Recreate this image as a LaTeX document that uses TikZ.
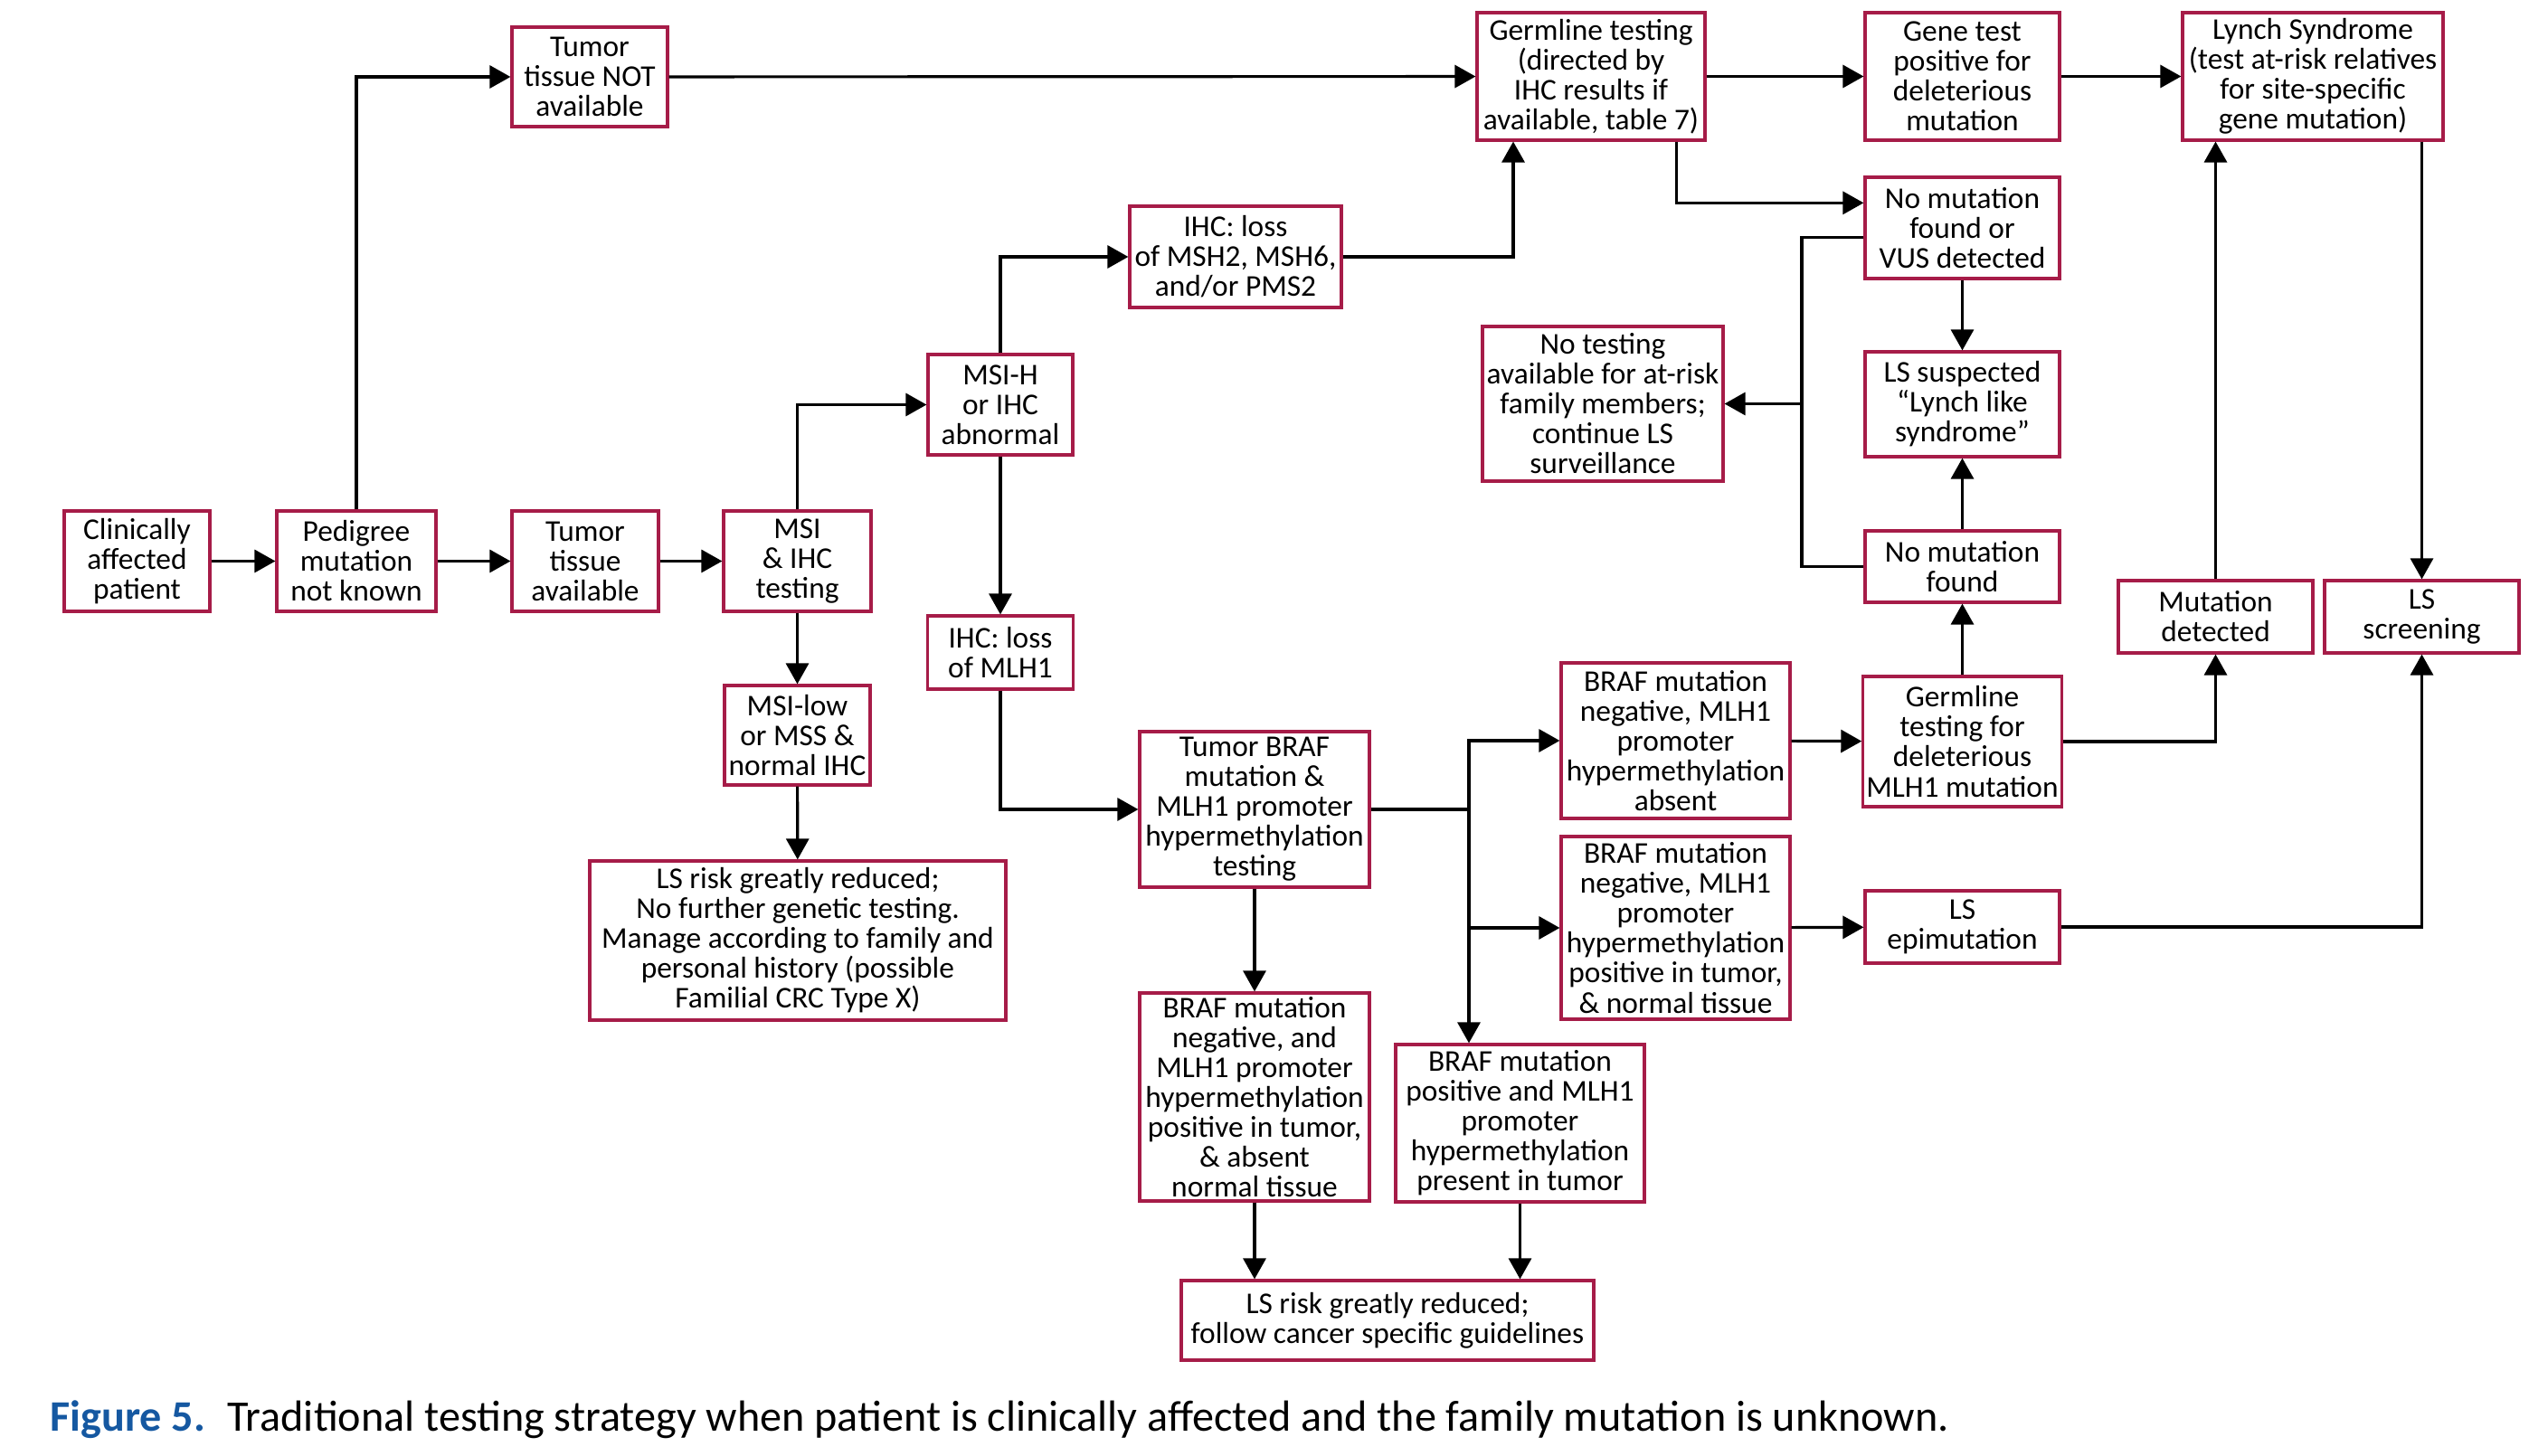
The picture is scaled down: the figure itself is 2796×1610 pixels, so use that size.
\documentclass[tikz,border=0pt]{standalone}
\usepackage{fontspec}
\setmainfont{Carlito}
\usetikzlibrary{arrows.meta,calc}
\definecolor{boxred}{RGB}{166,28,72}
\definecolor{figblue}{RGB}{21,88,161}
\tikzset{
 box/.style={draw=boxred,line width=.9pt,fill=white,align=center,inner sep=1pt,font=\fontsize{9.5}{9.4}\selectfont},
 wh/.style 2 args={minimum width=#1*0.1mm,minimum height=#2*0.1mm},
 link/.style={line width=.9pt},
 arrowlink/.style={line width=.9pt,-{Triangle[length=2.3mm,width=2.5mm]}}
}
\begin{document}
\begin{tikzpicture}[x=0.1mm,y=-0.1mm]
\path[use as bounding box] (0,0) rectangle (2796,1610);
\node[box,wh={161}{111}] (clin) at (151.5,620.5) {Clinically\\affected\\patient};
\node[box,wh={176}{111}] (pedi) at (394,620.5) {Pedigree\\mutation\\not known};
\node[box,wh={172}{110}] (tnot) at (652,85) {Tumor\\tissue NOT\\available};
\node[box,wh={162}{111}] (tavail) at (647,620.5) {Tumor\\tissue\\available};
\node[box,wh={163}{111}] (msiihc) at (881.5,620.5) {MSI\\\& IHC\\testing};
\node[box,wh={161}{110}] (msilow) at (881.5,813) {MSI-low\\or MSS \&\\normal IHC};
\node[box,wh={460}{176}] (lowrisk) at (882,1040) {LS risk greatly reduced;\\No further genetic testing.\\Manage according to family and\\personal history (possible\\Familial CRC Type X)};
\node[box,wh={160}{111}] (msih) at (1106,447.5) {MSI-H\\or IHC\\abnormal};
\node[box,wh={234}{112}] (ihcmsh) at (1366,284) {IHC: loss\\of MSH2, MSH6,\\and/or PMS2};
\node[box,wh={161}{81}] (ihcmlh) at (1106,721.5) {IHC: loss\\of MLH1};
\node[box,wh={254}{172}] (braf) at (1387,895) {Tumor BRAF\\mutation \&\\MLH1 promoter\\hypermethylation\\testing};
\node[box,wh={253}{172}] (negabs) at (1852.5,819) {BRAF mutation\\negative, MLH1\\promoter\\hypermethylation\\absent};
\node[box,wh={253}{202}] (negnorm) at (1852.5,1026) {BRAF mutation\\negative, MLH1\\promoter\\hypermethylation\\positive in tumor,\\\& normal tissue};
\node[box,wh={254}{230}] (negand) at (1387,1213) {BRAF mutation\\negative, and\\MLH1 promoter\\hypermethylation\\positive in tumor,\\\& absent\\normal tissue};
\node[box,wh={275}{174}] (bpos) at (1680.5,1242) {BRAF mutation\\positive and MLH1\\promoter\\hypermethylation\\present in tumor};
\node[box,wh={456}{88}] (guide) at (1534,1460) {LS risk greatly reduced;\\follow cancer specific guidelines};
\node[box,wh={252}{141}] (germ) at (1759,84.5) {Germline testing\\(directed by\\IHC results if\\available, table 7)};
\node[box,wh={215}{141}] (genepos) at (2169.5,84.5) {Gene test\\positive for\\deleterious\\mutation};
\node[box,wh={288}{141}] (lynch) at (2557,84.5) {Lynch Syndrome\\(test at-risk relatives\\for site-specific\\gene mutation)};
\node[box,wh={215}{112}] (novus) at (2169.5,252) {No mutation\\found or\\VUS detected};
\node[box,wh={266}{171}] (notest) at (1772,446.5) {No testing\\available for at-risk\\family members;\\continue LS\\surveillance};
\node[box,wh={215}{116}] (lynchlike) at (2169.5,447) {LS suspected\\``Lynch like\\syndrome''};
\node[box,wh={215}{79}] (nomut) at (2169.5,626.5) {No mutation\\found};
\node[box,wh={215}{144}] (germmlh) at (2169.5,820) {Germline\\testing for\\deleterious\\MLH1 mutation};
\node[box,wh={215}{80}] (mutdet) at (2449.5,682) {Mutation\\detected};
\node[box,wh={215}{80}] (screen) at (2677.5,682) {LS\\screening};
\node[box,wh={215}{80}] (epimut) at (2169.5,1025) {LS\\epimutation};
\coordinate (split) at (1992,446.5);
\coordinate (fork) at (1624,895);
\draw[arrowlink] (clin) -- (pedi);
\draw[arrowlink] (pedi) -- (tavail);
\draw[arrowlink] (tavail) -- (msiihc);
\draw[arrowlink] (pedi) |- (tnot);
\draw[arrowlink] (tnot) -- (germ);
\draw[arrowlink] (germ) -- (genepos);
\draw[arrowlink] (genepos) -- (lynch);
\draw[arrowlink] (msiihc) -- (msilow);
\draw[arrowlink] (msilow) -- (lowrisk);
\draw[arrowlink] (msiihc) |- (msih);
\draw[arrowlink] (msih) |- (ihcmsh);
\draw[arrowlink] (ihcmsh) -| ($(germ.south west)!.163!(germ.south east)$);
\draw[arrowlink] ($(germ.south west)!.869!(germ.south east)$) |- ($(novus.north west)!.26!(novus.south west)$);
\draw[arrowlink] (novus) -- (lynchlike);
\draw[link] ($(novus.north west)!.59!(novus.south west)$) -| (split) |- (nomut);
\draw[arrowlink] (split) -- (notest);
\draw[arrowlink] (nomut) -- (lynchlike);
\draw[arrowlink] (germmlh) -- (nomut);
\draw[arrowlink] (germmlh) -| (mutdet);
\draw[arrowlink] (mutdet) -- (mutdet |- lynch.south);
\draw[arrowlink] (lynch.south -| screen) -- (screen);
\draw[arrowlink] (epimut) -| (screen);
\draw[arrowlink] (msih) -- (ihcmlh);
\draw[arrowlink] (ihcmlh) |- (braf);
\draw[link] (braf) -- (fork);
\draw[arrowlink] (fork) |- (negabs);
\draw[arrowlink] (fork) |- (negnorm);
\draw[arrowlink] (fork) -- (fork |- bpos.north);
\draw[arrowlink] (negabs) -- (germmlh);
\draw[arrowlink] (negnorm) -- (epimut);
\draw[arrowlink] (braf) -- (negand);
\draw[arrowlink] (negand) -- (negand |- guide.north);
\draw[arrowlink] (bpos) -- (bpos |- guide.north);
\node[anchor=west,inner sep=0,font=\fontsize{13.7}{16}\selectfont] (caption) at (55,1570) {{\color{figblue}\bfseries Figure 5.}\enspace Traditional testing strategy when patient is clinically affected and the family mutation is unknown.};
\end{tikzpicture}
\end{document}
